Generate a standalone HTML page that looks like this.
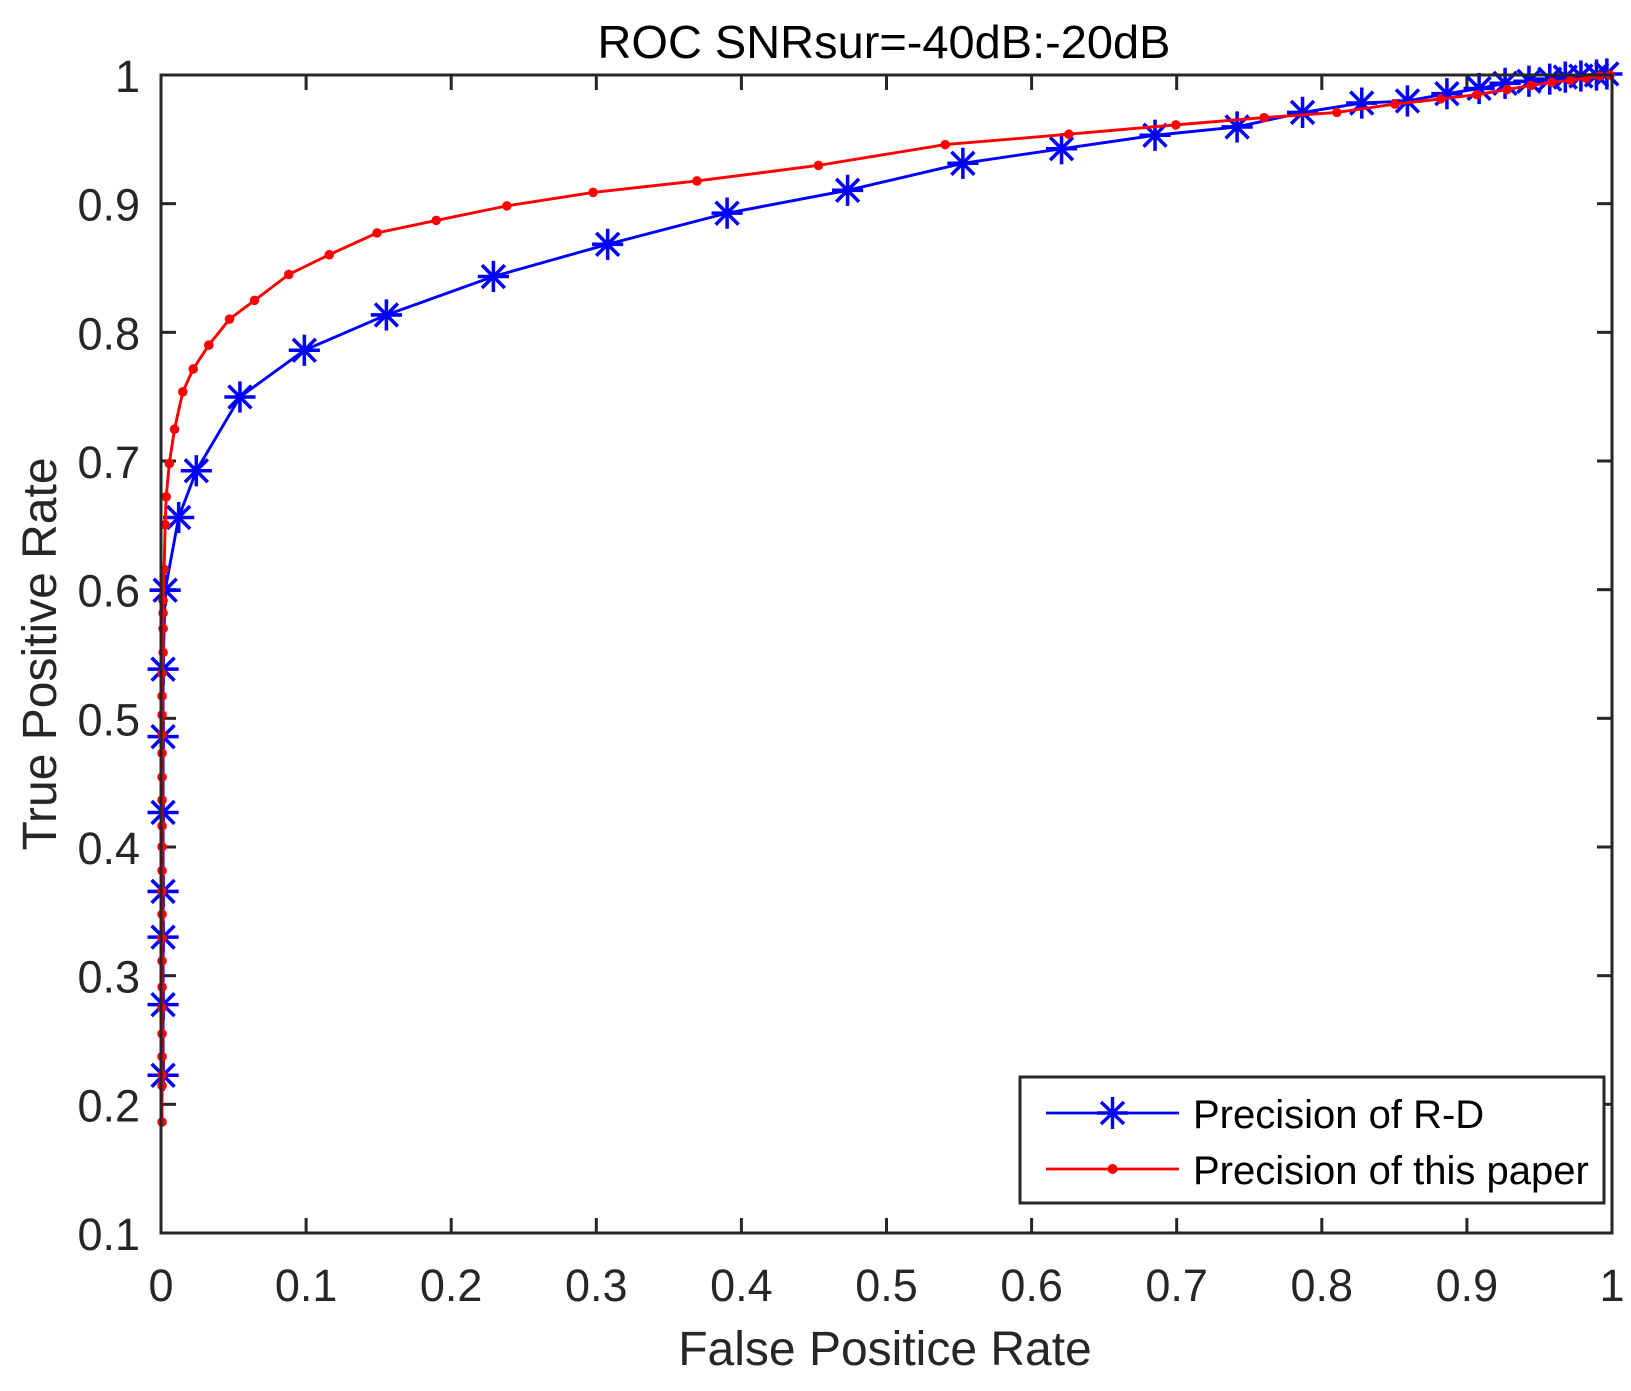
<!DOCTYPE html>
<html><head><meta charset="utf-8"><style>html,body{margin:0;padding:0;background:#fff}</style></head>
<body>
<svg width="1631" height="1386" viewBox="0 0 1631 1386" xmlns="http://www.w3.org/2000/svg" font-family="'Liberation Sans', Arial, sans-serif">
<rect width="1631" height="1386" fill="#fff"/>
<text x="884" y="58" font-size="46" text-anchor="middle" textLength="573" lengthAdjust="spacingAndGlyphs" fill="#000">ROC SNRsur=-40dB:-20dB</text>
<g id="ticks" stroke="#262626" stroke-width="3"></g>
<g id="labels" font-size="45" fill="#262626"></g>
<text x="885" y="1365" font-size="48" text-anchor="middle" fill="#262626">False Positice Rate</text>
<text transform="translate(56,654) rotate(-90)" font-size="48" text-anchor="middle" fill="#262626">True Positive Rate</text>
<g transform="translate(2.08,0.22) scale(1.0387)">
<polyline id="bl" fill="none" stroke="#0000ff" stroke-width="2.8"/>
<g id="bm" stroke="#0000ff" stroke-width="3.4"></g>
<polyline id="rl" fill="none" stroke="#ff0000" stroke-width="2.8"/>
<g id="rm" fill="#ff0000"></g>
</g>
<rect x="161" y="75" width="1451" height="1158" fill="none" stroke="#262626" stroke-width="3"/>
<rect x="1020" y="1077" width="584" height="126" fill="#fff" stroke="#262626" stroke-width="3"/>
<line x1="1046" y1="1113" x2="1179" y2="1113" stroke="#0000ff" stroke-width="2.8"/>
<g stroke="#0000ff" stroke-width="3.4"><line x1="1097" y1="1113" x2="1128" y2="1113"/><line x1="1112.5" y1="1097" x2="1112.5" y2="1129"/><line x1="1101" y1="1102" x2="1124" y2="1124"/><line x1="1101" y1="1124" x2="1124" y2="1102"/></g>
<line x1="1046" y1="1169" x2="1179" y2="1169" stroke="#ff0000" stroke-width="2.8"/>
<circle cx="1112.5" cy="1169" r="5" fill="#ff0000"/>
<text x="1193" y="1128" font-size="40" fill="#000">Precision of R-D</text>
<text x="1193" y="1184" font-size="40" fill="#000">Precision of this paper</text>
</svg>
<script>
const NS="http://www.w3.org/2000/svg";
function el(p,t,a,txt){const e=document.createElementNS(NS,t);for(const k in a)e.setAttribute(k,a[k]);if(txt!==undefined)e.textContent=txt;p.appendChild(e);return e;}
const tk=document.getElementById('ticks'),lb=document.getElementById('labels');
const L=161,R=1612,T=75,B=1233;
for(let i=0;i<=10;i++){const x=L+(R-L)*i/10;
 el(tk,'line',{x1:x,y1:B,x2:x,y2:B-15});el(tk,'line',{x1:x,y1:T,x2:x,y2:T+15});
 el(lb,'text',{x:x,y:1301,'text-anchor':'middle'},i==0?'0':i==10?'1':'0.'+i);}
for(let i=1;i<=10;i++){const y=B-(B-T)*(i-1)/9;
 el(tk,'line',{x1:L,y1:y,x2:L+15,y2:y});el(tk,'line',{x1:R,y1:y,x2:R-15,y2:y});
 el(lb,'text',{x:140,y:y+17,'text-anchor':'end'},i==10?'1':'0.'+i);}
const blue=[[155,1035],[155,967],[155,902],[155,858],[155,782],[155,709],[155,644],[157,568],[170,498],[187,453],[229,382],[291,337],[370,303],[473,266],[583,235],[698,205],[814,183],[925,157],[1020,143],[1110,130],[1189,122],[1252,108],[1309,99],[1353,97],[1391,90],[1422,85],[1447,80],[1470,78],[1490,76],[1505,74],[1520,73],[1535,72],[1545,71]];
const red=[[154,1080],[154,1045],[154,1035],[154,1017],[154,995],[154,970],[154,950],[154,925],[154,903],[154,880],[154,858],[154,838],[154,815],[154,795],[154,770],[154,748],[154,725],[154,707],[154,688],[154,670],[154,648],[155,628],[155,605],[155,590],[155,578],[156,548],[157,505],[158,478],[161,446],[166,413],[174,377],[184,355],[199,332],[219,307],[243,289],[276,264],[315,245],[361,224],[418,212],[486,198],[569,185],[669,174],[786,159],[908,139],[1027,129],[1130,120],[1215,113],[1285,108],[1341,100],[1385,95],[1420,91],[1449,86],[1472,82],[1492,79],[1510,77],[1525,75],[1538,73],[1548,72]];
document.getElementById('bl').setAttribute('points',blue.map(p=>p.join(',')).join(' '));
document.getElementById('rl').setAttribute('points',red.map(p=>p.join(',')).join(' '));
const bm=document.getElementById('bm'),rm=document.getElementById('rm');
const r=15,d=11;
blue.forEach(([x,y])=>{el(bm,'line',{x1:x-r,y1:y,x2:x+r,y2:y});el(bm,'line',{x1:x,y1:y-r,x2:x,y2:y+r});
 el(bm,'line',{x1:x-d,y1:y-d,x2:x+d,y2:y+d});el(bm,'line',{x1:x-d,y1:y+d,x2:x+d,y2:y-d});});
red.forEach(([x,y])=>el(rm,'circle',{cx:x,cy:y,r:4.6}));
</script>
</body></html>
